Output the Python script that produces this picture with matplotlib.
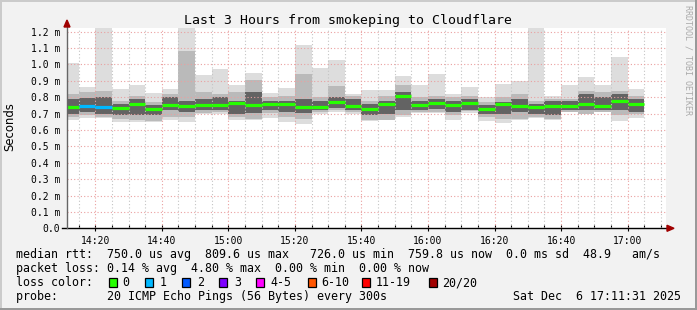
import numpy as np
import pandas as pd
import matplotlib
matplotlib.use('Agg')
import matplotlib.pyplot as plt
from matplotlib.patches import Rectangle, Polygon
from matplotlib.lines import Line2D

W, H = 697, 310

# end time of each 5 minute step (14:15 ... 17:05)
bar_end = pd.date_range('2025-12-06 14:15', '2025-12-06 17:05', freq='5min')

# rtt values in ms
rtt_max = [1.007, 0.862, 1.230, 0.850, 0.875, 0.824, 0.850, 1.230, 0.936, 0.972,
           0.875, 0.948, 0.824, 0.856, 1.119, 0.980, 1.026, 0.818, 0.844, 0.844,
           0.930, 0.875, 0.942, 0.820, 0.865, 0.804, 0.881, 0.901, 1.230, 0.810,
           0.875, 0.926, 0.875, 1.046, 0.850]
rtt_p90 = [0.820, 0.834, 0.840, 0.780, 0.810, 0.770, 0.820, 1.082, 0.830, 0.820,
           0.830, 0.905, 0.800, 0.810, 0.942, 0.800, 0.868, 0.810, 0.780, 0.810,
           0.875, 0.800, 0.810, 0.800, 0.810, 0.770, 0.800, 0.820, 0.780, 0.790,
           0.790, 0.840, 0.830, 0.840, 0.810]
rtt_p75 = [0.790, 0.794, 0.800, 0.760, 0.790, 0.750, 0.800, 0.780, 0.790, 0.800,
           0.780, 0.830, 0.780, 0.780, 0.790, 0.780, 0.800, 0.790, 0.760, 0.780,
           0.830, 0.780, 0.790, 0.780, 0.790, 0.750, 0.770, 0.790, 0.760, 0.780,
           0.775, 0.820, 0.800, 0.820, 0.790]
rtt_med = [0.742, 0.748, 0.742, 0.735, 0.760, 0.729, 0.753, 0.748, 0.753, 0.753,
           0.766, 0.753, 0.759, 0.759, 0.739, 0.742, 0.772, 0.748, 0.728, 0.761,
           0.810, 0.753, 0.765, 0.753, 0.765, 0.726, 0.761, 0.749, 0.741, 0.749,
           0.749, 0.761, 0.749, 0.777, 0.760]
rtt_p25 = [0.700, 0.712, 0.700, 0.690, 0.690, 0.690, 0.720, 0.710, 0.725, 0.720,
           0.700, 0.705, 0.720, 0.710, 0.705, 0.720, 0.735, 0.720, 0.690, 0.700,
           0.720, 0.720, 0.730, 0.710, 0.725, 0.700, 0.700, 0.710, 0.700, 0.690,
           0.720, 0.720, 0.720, 0.720, 0.710]
rtt_p10 = [0.680, 0.692, 0.680, 0.670, 0.660, 0.655, 0.680, 0.680, 0.705, 0.710,
           0.680, 0.670, 0.705, 0.680, 0.670, 0.710, 0.720, 0.710, 0.660, 0.660,
           0.690, 0.710, 0.710, 0.690, 0.715, 0.680, 0.670, 0.670, 0.680, 0.670,
           0.710, 0.700, 0.710, 0.690, 0.700]
rtt_min = [0.661, 0.671, 0.671, 0.651, 0.650, 0.648, 0.661, 0.650, 0.700, 0.700,
           0.661, 0.661, 0.675, 0.650, 0.637, 0.700, 0.708, 0.695, 0.657, 0.661,
           0.681, 0.702, 0.702, 0.661, 0.702, 0.657, 0.645, 0.661, 0.675, 0.661,
           0.708, 0.700, 0.708, 0.657, 0.675]
lost = [0, 1, 1, 0, 0, 0, 0, 0, 0, 0, 0, 0, 0, 0, 0, 0, 0, 0, 0, 0,
        0, 0, 0, 0, 0, 0, 0, 0, 0, 0, 0, 0, 0, 0, 0]

loss_names = ['0', '1', '2', '3', '4-5', '6-10', '11-19', '20/20']
loss_colors = ['#26ff00', '#00b8ff', '#0059ff', '#7e00ff', '#ff00ff', '#ff5500', '#ff0000', '#a10000']

x_labels = ['14:20', '14:40', '15:00', '15:20', '15:40', '16:00', '16:20', '16:40', '17:00']

legend_lines = [
    'median rtt:  750.0 us avg  809.6 us max   726.0 us min  759.8 us now  0.0 ms sd  48.9   am/s',
    'packet loss: 0.14 % avg  4.80 % max  0.00 % min  0.00 % now',
]
probe_text = 'probe:       20 ICMP Echo Pings (56 Bytes) every 300s'
date_text = 'Sat Dec  6 17:11:31 2025'

MONO = 'DejaVu Sans Mono'


def fx(x):
    return x / W


def fy(y):
    return 1 - y / H


def mins(t):
    return t.hour * 60 + t.minute + t.second / 60


ends = np.array([mins(t) for t in bar_end])
starts = ends - 5
mx, p90, p75 = np.array(rtt_max), np.array(rtt_p90), np.array(rtt_p75)
med, p25, p10, mn = np.array(rtt_med), np.array(rtt_p25), np.array(rtt_p10), np.array(rtt_min)

fig = plt.figure(figsize=(W / 100, H / 100), dpi=100, facecolor='#f2f2f2')
ax = fig.add_axes([fx(67), fy(228.3), (666 - 67) / W, (228.3 - 28) / H])
ax.set_facecolor('white')

# smoke
ax.bar(starts, mx - mn, bottom=mn, width=5, align='edge', color='#dddddd', lw=0, zorder=2)
ax.bar(starts, p90 - p10, bottom=p10, width=5, align='edge', color='#bababa', lw=0, zorder=2)
ax.bar(starts, p75 - p25, bottom=p25, width=5, align='edge', color='#636363', lw=0, zorder=2)

# median line, coloured by loss
ax.hlines(med, starts, ends, colors=[loss_colors[l] for l in lost], lw=2.3, zorder=5)

# grid on top of the smoke
t0 = mins(pd.Timestamp('2025-12-06 14:11:31'))
t1 = mins(pd.Timestamp('2025-12-06 17:11:31'))
for m in range(14 * 60 + 15, 17 * 60 + 12, 5):
    c = '#eaa0a0' if m % 20 == 0 else '#c4c4c4'
    ax.axvline(m, color=c, lw=0.8, ls=(0, (1, 2)), zorder=3)
for v in np.arange(0.1, 1.21, 0.1):
    ax.axhline(v, color='#eaa0a0', lw=0.8, ls=(0, (1, 2)), zorder=3)

ax.set_xlim(t0, t1)
ax.set_ylim(0, 1.2227)

major = [mins(pd.Timestamp('2025-12-06 ' + s)) for s in x_labels]
ax.set_xticks(major, labels=x_labels)
ax.set_xticks(np.arange(14 * 60 + 15, 17 * 60 + 12, 5), minor=True)
ax.tick_params(axis='x', which='major', direction='inout', length=4, width=0.8, pad=3.5, labelsize=7)
ax.tick_params(axis='x', which='minor', direction='in', length=2, width=0.8)
yt = np.arange(0, 1.21, 0.1)
ax.set_yticks(yt, labels=['0.0'] + ['%.1f m' % v for v in yt[1:]])
ax.tick_params(axis='y', length=0, pad=5, labelsize=7)
for lab in ax.get_xticklabels() + ax.get_yticklabels():
    lab.set_family(MONO)

for s in ax.spines.values():
    s.set_visible(False)

# axes lines and arrows
fig.add_artist(Line2D([fx(62), fx(668)], [fy(228.3), fy(228.3)], color='black', lw=1, zorder=6))
fig.add_artist(Line2D([fx(67), fx(67)], [fy(228.3), fy(25)], color='#666666', lw=1, zorder=6))
fig.add_artist(Polygon([[fx(67), fy(20)], [fx(64), fy(27)], [fx(70), fy(27)]],
                       closed=True, color='#a00000', transform=fig.transFigure, zorder=7))
fig.add_artist(Polygon([[fx(674), fy(228.3)], [fx(667), fy(225.3)], [fx(667), fy(231.3)]],
                       closed=True, color='#a00000', transform=fig.transFigure, zorder=7))

# texts
fig.text(fx(348.5), fy(24), 'Last 3 Hours from smokeping to Cloudflare',
         ha='center', va='baseline', family=MONO, fontsize=9.5)
fig.text(fx(10), fy(127), 'Seconds', rotation=90, ha='center', va='center',
         family='DejaVu Sans', fontsize=8.4)
fig.text(fx(688), fy(60), 'RRDTOOL / TOBI OETIKER', rotation=270, ha='center', va='center',
         family=MONO, fontsize=6, color='#aaaaaa')

fig.text(fx(15.8), fy(258.3), legend_lines[0], family=MONO, fontsize=8.4, va='baseline')
fig.text(fx(15.8), fy(272.3), legend_lines[1], family=MONO, fontsize=8.4, va='baseline')
fig.text(fx(15.8), fy(286.3), 'loss color:', family=MONO, fontsize=8.4, va='baseline')
box_x = [109, 145, 182, 218.5, 255.5, 307.5, 362, 429]
txt_x = [122.7, 160, 197, 234, 270, 321.7, 376, 442.5]
for name, col, bx, tx in zip(loss_names, loss_colors, box_x, txt_x):
    fig.add_artist(Rectangle((fx(bx), fy(286.6)), 8 / W, 8.4 / H, facecolor=col,
                             edgecolor='black', lw=0.9, transform=fig.transFigure))
    fig.text(fx(tx), fy(286.3), name, family=MONO, fontsize=8.4, va='baseline')
fig.text(fx(15.8), fy(300.3), probe_text, family=MONO, fontsize=8.4, va='baseline')
fig.text(fx(681), fy(300.3), date_text, family=MONO, fontsize=8.4, va='baseline', ha='right')

# 3d frame around the picture
fig.add_artist(Rectangle((0, fy(2)), 1, 2 / H, color='#cbcbcb', transform=fig.transFigure, lw=0))
fig.add_artist(Rectangle((0, 0), 2 / W, 1, color='#cbcbcb', transform=fig.transFigure, lw=0))
fig.add_artist(Rectangle((0, 0), 1, 2.5 / H, color='#999999', transform=fig.transFigure, lw=0))
fig.add_artist(Rectangle((1 - 2.5 / W, 0), 2.5 / W, 1, color='#999999', transform=fig.transFigure, lw=0))

fig.savefig('out.png', dpi=100, facecolor=fig.get_facecolor())
